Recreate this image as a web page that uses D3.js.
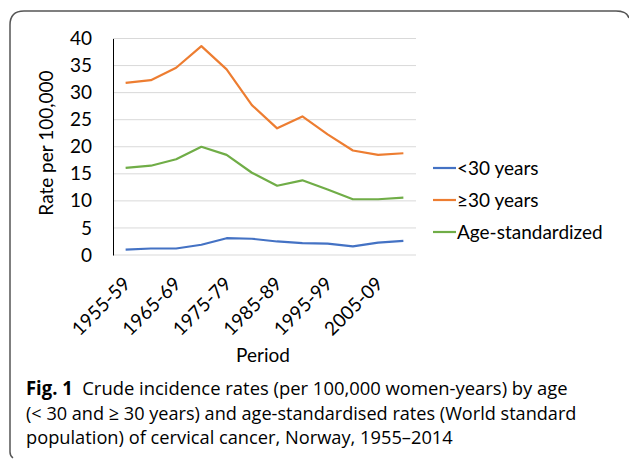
<!DOCTYPE html>
<html>
<head>
<meta charset="utf-8">
<script src="https://cdn.jsdelivr.net/npm/d3@7"></script>
<style>
  body { margin: 0; background: #fff; }
  text { font-family: Lato, "Open Sans", sans-serif; fill: #000; }
</style>
</head>
<body>
<div id="chart"></div>
<script>
// periods (5-year groups)
const periods = ["1955-59", "1960-64", "1965-69", "1970-74", "1975-79", "1980-84",
                 "1985-89", "1990-94", "1995-99", "2000-04", "2005-09", "2010-14"];
const under30 = [1.0, 1.2, 1.2, 1.9, 3.1, 3.0, 2.5, 2.2, 2.1, 1.6, 2.3, 2.6];
const over30 = [31.8, 32.3, 34.6, 38.6, 34.3, 27.7, 23.4, 25.6, 22.3, 19.3, 18.5, 18.8];
const ageStd = [16.1, 16.5, 17.7, 20.0, 18.5, 15.2, 12.8, 13.8, 12.1, 10.3, 10.3, 10.6];
const yTicks = [0, 5, 10, 15, 20, 25, 30, 35, 40];
const seriesNames = ["<30 years", "\u226530 years", "Age-standardized"];
const colors = ["#4472C4", "#ED7D31", "#70AD47"];

const captionLines = [
  ["Fig. 1", "  Crude incidence rates (per 100,000 women-years) by age"],
  ["", "(< 30 and \u2265 30 years) and age-standardised rates (World standard"],
  ["", "population) of cervical cancer, Norway, 1955\u20132014"]
];

let width = 629, height = 459;
let svg = d3.select("#chart").append("svg")
  .attr("width", width).attr("height", height);

// frame round the figure
svg.append("path")
  .attr("d", "M10,452 Q10,456 13,458 M10,452 L10,25 Q10,11 24,11 L616,11 Q627,11 629,18")
  .style("fill", "none").style("stroke", "#555").style("stroke-width", 1.5);

let plot = {left: 113, right: 416, top: 38.5, bottom: 255};

let x = d3.scaleBand().domain(periods).range([plot.left, plot.right]);
let y = d3.scaleLinear().domain([0, 40]).range([plot.bottom, plot.top]);

// gridlines
svg.selectAll("grid").data(yTicks).enter().append("line")
  .attr("x1", plot.left).attr("x2", plot.right)
  .attr("y1", d => y(d)).attr("y2", d => y(d))
  .style("stroke", "#D9D9D9").style("stroke-width", 1);

// y axis
let yAxis = svg.append("g")
  .attr("transform", "translate(" + plot.left + ",0)")
  .call(d3.axisLeft(y).tickValues(yTicks).tickSize(0).tickPadding(21));
yAxis.select(".domain").style("stroke", "#000");
yAxis.selectAll("text").style("font-size", "19px").style("font-family", "Lato, sans-serif").attr("fill", "#000");

// x axis labels, every second one
let xAxis = svg.append("g")
  .attr("transform", "translate(0," + plot.bottom + ")")
  .call(d3.axisBottom(x).tickValues(periods.filter((p, i) => i % 2 == 0)).tickSize(0).tickPadding(0));
xAxis.select(".domain").remove();
xAxis.selectAll("text")
  .style("font-size", "19px").style("font-family", "Lato, sans-serif").attr("fill", "#000")
  .style("text-anchor", "end")
  .attr("dy", null).attr("y", 0)
  .attr("transform", "translate(6,30) rotate(-45)");

// lines
let line = d3.line()
  .x((d, i) => x(periods[i]) + x.bandwidth() / 2)
  .y(d => y(d));
[under30, over30, ageStd].forEach(function(s, k) {
  svg.append("path")
    .attr("d", line(s))
    .style("fill", "none")
    .style("stroke", colors[k])
    .style("stroke-width", 2.2)
    .style("stroke-linejoin", "round");
});

// axis titles
svg.append("text")
  .attr("transform", "translate(53,143) rotate(-90)")
  .style("text-anchor", "middle").style("font-size", "19px")
  .text("Rate per 100,000");
svg.append("text")
  .attr("x", 263).attr("y", 362)
  .style("text-anchor", "middle").style("font-size", "19px")
  .text("Period");

// legend
seriesNames.forEach(function(n, k) {
  let ly = 168 + k * 32;
  svg.append("line").attr("x1", 433).attr("x2", 456).attr("y1", ly).attr("y2", ly)
    .style("stroke", colors[k]).style("stroke-width", 2.2);
  svg.append("text").attr("x", 457).attr("y", ly).attr("dy", "0.35em")
    .style("font-size", "19px").text(n);
});

// caption, squeezed to the width of the original condensed font
let capRight = [568, 577, 453];
captionLines.forEach(function(l, i) {
  let t = svg.append("text")
    .style("font-family", "'Open Sans', sans-serif")
    .style("font-size", "19px")
    .attr("xml:space", "preserve");
  if (l[0]) t.append("tspan").style("font-weight", "bold").text(l[0]);
  t.append("tspan").text(l[1]);
  let len = t.node().getComputedTextLength();
  let k = (capRight[i] - 26) / len;
  t.attr("transform", "translate(26," + (395 + i * 24.5) + ") scale(" + k + ",1)");
});
</script>
</body>
</html>
